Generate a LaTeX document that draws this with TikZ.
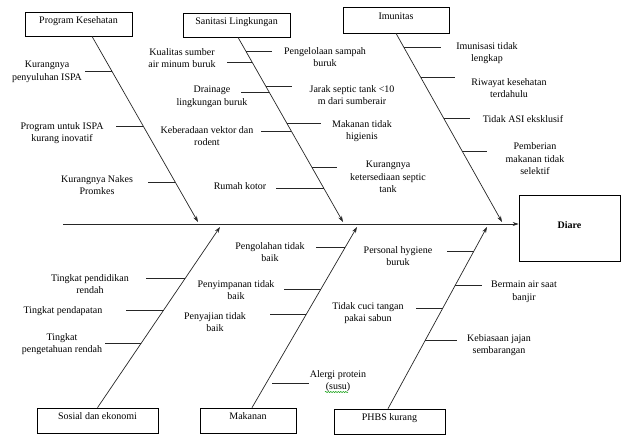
\documentclass[tikz,border=0pt]{standalone}
\usepackage{fontspec}
\setmainfont{Liberation Serif}
\usetikzlibrary{arrows.meta,decorations.pathmorphing}

\tikzset{
  kotak/.style={draw, line width=0.7pt, minimum height=24pt, text depth=8pt, font=\fontsize{10}{12}\selectfont},
  sebab/.style={align=center, inner sep=1pt, font=\fontsize{10}{12.5}\selectfont},
  tulang/.style={line width=0.7pt, black!85, -{Stealth[length=6pt,width=4pt]}},
  rusuk/.style={line width=0.7pt, black!85},
}

\begin{document}
\begin{tikzpicture}[x=1pt, y=-1pt]
        \useasboundingbox (0,0) rectangle (621,436);

        % === Kotak kategori ===
        \node[kotak, minimum width=107pt] (pk) at (78.5,24) {Program Kesehatan};
        \node[kotak, minimum width=107pt] (sl) at (236.5,25) {Sanitasi Lingkungan};
        \node[kotak, minimum width=106pt, minimum height=26pt] (im) at (396,20) {Imunitas};
        \node[kotak, minimum width=121pt, minimum height=25pt] (se) at (97.5,420.5) {Sosial dan ekonomi};
        \node[kotak, minimum width=96pt, minimum height=25pt] (mk) at (248,420.5) {Makanan};
        \node[kotak, minimum width=111pt, minimum height=25pt] (ph) at (389.5,421.5) {PHBS kurang};
        \node[kotak, minimum width=101pt, minimum height=66pt, text depth=6pt, font=\fontsize{10}{12}\selectfont\bfseries] (dr) at (569.5,228) {Diare};

        % Tulang utama
        \coordinate (ekor) at (63,224);
        \draw[tulang] (ekor) -- (ekor -| dr.west);

        % Tulang kategori
        \coordinate (pkA) at ([xshift=13.5pt]pk.south);
        \coordinate (pkB) at (198,222);
        \coordinate (slA) at ([xshift=1.5pt]sl.south);
        \coordinate (slB) at (343,222);
        \coordinate (imA) at (im.south);
        \coordinate (imB) at (502,222);
        \coordinate (seA) at (se.north);
        \coordinate (seB) at (220,227);
        \coordinate (mkA) at ([xshift=4pt]mk.north);
        \coordinate (mkB) at (357,227);
        \coordinate (phA) at ([xshift=-1.5pt]ph.north);
        \coordinate (phB) at (487,227);

        \draw[tulang] (pkA) -- (pkB);
        \draw[tulang] (slA) -- (slB);
        \draw[tulang] (imA) -- (imB);
        \draw[tulang] (seA) -- (seB);
        \draw[tulang] (mkA) -- (mkB);
        \draw[tulang] (phA) -- (phB);

        % === Program Kesehatan ===
        \node[sebab] (pk1) at (47,72) {Kurangnya\\penyuluhan ISPA};
        \node[sebab] (pk2) at (62,133) {Program untuk ISPA\\kurang inovatif};
        \node[sebab] (pk3) at (97,185) {Kurangnya Nakes\\Promkes};
        \draw[rusuk] (intersection of pkA--pkB and 0,71--1,71) -- ++(-27,0);
        \draw[rusuk] (intersection of pkA--pkB and 0,126--1,126) -- ++(-27,0);
        \draw[rusuk] (intersection of pkA--pkB and 0,182--1,182) -- ++(-27,0);

        % === Sanitasi Lingkungan ===
        \node[sebab] (sl1) at (182,58) {Kualitas sumber\\air minum buruk};
        \node[sebab] (sl2) at (212,97) {Drainage\\lingkungan buruk};
        \node[sebab] (sl3) at (207,136) {Keberadaan vektor dan\\rodent};
        \node[sebab] (sl4) at (240,186) {Rumah kotor};
        \node[sebab] (sl5) at (325,57) {Pengelolaan sampah\\buruk};
        \node[sebab] (sl6) at (352,95) {Jarak septic tank <10\\m dari sumberair};
        \node[sebab] (sl7) at (362,131) {Makanan tidak\\higienis};
        \node[sebab] (sl8) at (388,177) {Kurangnya\\ketersediaan septic\\tank};
        \draw[rusuk] (intersection of slA--slB and 0,62--1,62) -- ++(-25,0);
        \draw[rusuk] (intersection of slA--slB and 0,92--1,92) -- ++(-28,0);
        \draw[rusuk] (intersection of slA--slB and 0,131--1,131) -- ++(-30,0);
        \draw[rusuk] (intersection of slA--slB and 0,188--1,188) -- ++(-48,0);
        \draw[rusuk] (intersection of slA--slB and 0,51--1,51) -- ++(26,0);
        \draw[rusuk] (intersection of slA--slB and 0,86--1,86) -- ++(26,0);
        \draw[rusuk] (intersection of slA--slB and 0,123--1,123) -- ++(34,0);
        \draw[rusuk] (intersection of slA--slB and 0,167--1,167) -- ++(25,0);

        % === Imunitas ===
        \node[sebab] (im1) at (487,53) {Imunisasi tidak\\lengkap};
        \node[sebab] (im2) at (509,88) {Riwayat kesehatan\\terdahulu};
        \node[sebab] (im3) at (523,119) {Tidak ASI eksklusif};
        \node[sebab] (im4) at (535,159) {Pemberian\\makanan tidak\\selektif};
        \draw[rusuk] (intersection of imA--imB and 0,47--1,47) -- ++(37,0);
        \draw[rusuk] (intersection of imA--imB and 0,77--1,77) -- ++(34,0);
        \draw[rusuk] (intersection of imA--imB and 0,118--1,118) -- ++(26,0);
        \draw[rusuk] (intersection of imA--imB and 0,151--1,151) -- ++(25,0);

        % === Sosial dan ekonomi ===
        \node[sebab] (se1) at (90,284) {Tingkat pendidikan\\rendah};
        \node[sebab] (se2) at (63,311) {Tingkat pendapatan};
        \node[sebab] (se3) at (62,344) {Tingkat\\pengetahuan rendah};
        \draw[rusuk] (intersection of seA--seB and 0,278--1,278) -- ++(-39,0);
        \draw[rusuk] (intersection of seA--seB and 0,310--1,310) -- ++(-38,0);
        \draw[rusuk] (intersection of seA--seB and 0,343--1,343) -- ++(-36,0);

        % === Makanan ===
        \node[sebab] (mk1) at (270,252) {Pengolahan tidak\\baik};
        \node[sebab] (mk2) at (236,290) {Penyimpanan tidak\\baik};
        \node[sebab] (mk3) at (215,322) {Penyajian tidak\\baik};
        \node[sebab] (mk4) at (338,381) {Alergi protein\\(susu)};
        \draw[rusuk] (intersection of mkA--mkB and 0,247--1,247) -- ++(-29,0);
        \draw[rusuk] (intersection of mkA--mkB and 0,289--1,289) -- ++(-37,0);
        \draw[rusuk] (intersection of mkA--mkB and 0,314--1,314) -- ++(-36,0);
        \draw[rusuk] ([yshift=-2pt]mk4.west) -- ++(-37,0);
        \draw[green!60!black, line width=0.5pt, decorate, decoration={snake, amplitude=0.6pt, segment length=2.5pt}] (325,392) -- (348,392);

        % === PHBS kurang ===
        \node[sebab] (ph1) at (398,256) {Personal hygiene\\buruk};
        \node[sebab] (ph2) at (524,292) {Bermain air saat\\banjir};
        \node[sebab] (ph3) at (368,313) {Tidak cuci tangan\\pakai sabun};
        \node[sebab] (ph4) at (499,345) {Kebiasaan jajan\\sembarangan};
        \draw[rusuk] (intersection of phA--phB and 0,251--1,251) -- ++(-27,0);
        \draw[rusuk] (intersection of phA--phB and 0,308--1,308) -- ++(-27,0);
        \draw[rusuk] (intersection of phA--phB and 0,285--1,285) -- ++(27,0);
        \draw[rusuk] (intersection of phA--phB and 0,340--1,340) -- ++(32,0);

\end{tikzpicture}
\end{document}
